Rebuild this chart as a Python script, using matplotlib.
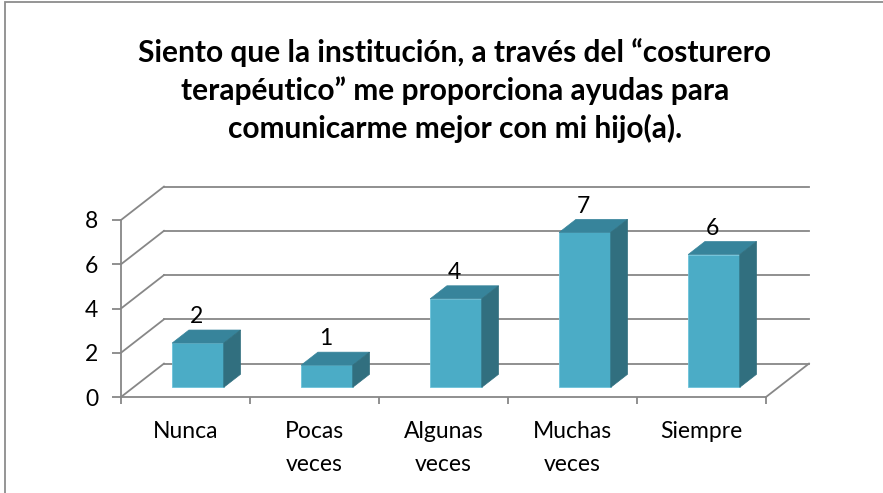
import matplotlib.pyplot as plt
from matplotlib.patches import Polygon, Rectangle

categories = ["Nunca", "Pocas\nveces", "Algunas\nveces", "Muchas\nveces", "Siempre"]
values = [2, 1, 4, 7, 6]
yticks = [0, 2, 4, 6, 8]
title = ("Siento que la institución, a través del \u201ccosturero\n"
         "terapéutico\u201d me proporciona ayudas para\n"
         "comunicarme mejor con mi hijo(a).")

W, H = 883, 493
FRONT = "#4BACC6"
TOP = "#37849B"
SIDE = "#316F7F"
GRID = "#878787"
FONT = "Lato"
LBL = 16.5

# depth of the fake 3d box, in data units (x: categories, y: values)
DX, DY = 0.333, 1.51
BAR_W = 0.40
D0, D1 = 0.29, 0.68   # bar depth range, fraction of the floor depth

fig = plt.figure(figsize=(W / 100, H / 100), dpi=100)
fig.patch.set_facecolor("white")

# outer chart border (only top and left are inside the picture)
fig.add_artist(Rectangle((5 / W, -0.1), 1.2, 1 - 2 / H + 0.1, transform=fig.transFigure,
                         fill=False, edgecolor="#8c8c8c", lw=1.3))

ax = fig.add_axes([121 / W, (H - 397) / H, 645 / W, 177 / H])
ax.set_xlim(0, len(categories))
ax.set_ylim(0, 8)
for s in ["top", "right", "bottom"]:
    ax.spines[s].set_visible(False)
ax.spines["left"].set_color(GRID)
ax.spines["left"].set_linewidth(1.3)

n = len(categories)
# back wall gridlines + left wall diagonals
for t in yticks:
    ax.plot([DX, n + DX], [t + DY, t + DY], color=GRID, lw=1.3, clip_on=False, zorder=1)
    ax.plot([0, DX], [t, t + DY], color=GRID, lw=1.3, clip_on=False, zorder=1)
# floor front edge and right edge
ax.plot([0, n], [0, 0], color=GRID, lw=1.3, clip_on=False, zorder=1)
ax.plot([n, n + DX], [0, DY], color=GRID, lw=1.3, clip_on=False, zorder=1)

ax.set_yticks(yticks)
ax.set_yticklabels([str(t) for t in yticks], fontsize=LBL, fontfamily=FONT)
ax.tick_params(axis="y", length=6.5, width=1.3, color=GRID, pad=10)

ax.set_xticks(range(n + 1))
ax.set_xticklabels([""] * (n + 1))
ax.tick_params(axis="x", which="major", length=5, width=1.3, color=GRID, direction="out")
ax.set_xticks([i + 0.5 for i in range(n)], minor=True)
ax.set_xticklabels(categories, minor=True, fontsize=LBL, fontfamily=FONT, linespacing=1.75)
ax.tick_params(axis="x", which="minor", length=0, pad=17)
for lbl in ax.get_xticklabels(minor=True):
    lbl.set_verticalalignment("top")

# bars: front face via bar(), top and side faces as polygons
x0 = [i + 0.30 + D0 * DX for i in range(n)]
base = D0 * DY
ddx, ddy = (D1 - D0) * DX, (D1 - D0) * DY
ax.bar(x0, values, width=BAR_W, bottom=base, align="edge", color=FRONT,
       edgecolor="#6cc3da", linewidth=0.6, zorder=3, clip_on=False)
for x, v in zip(x0, values):
    top = base + v
    ax.add_patch(Polygon([(x, top), (x + BAR_W, top), (x + BAR_W + ddx, top + ddy), (x + ddx, top + ddy)],
                         closed=True, facecolor=TOP, edgecolor=TOP, lw=0.5, zorder=3, clip_on=False))
    ax.add_patch(Polygon([(x + BAR_W, base), (x + BAR_W, top), (x + BAR_W + ddx, top + ddy), (x + BAR_W + ddx, base + ddy)],
                         closed=True, facecolor=SIDE, edgecolor=SIDE, lw=0.5, zorder=3, clip_on=False))
    ax.annotate(str(v), (x + BAR_W / 2 - 0.01, top + ddy), xytext=(0, 2), textcoords="offset points",
                ha="center", va="bottom", fontsize=LBL, fontfamily=FONT, zorder=4, annotation_clip=False)

fig.text(455 / W, 1 - 91 / H, title, ha="center", va="center", fontsize=21.5, fontweight="bold",
         fontfamily=FONT, linespacing=1.38)

fig.savefig("out.png", dpi=100, facecolor="white")
